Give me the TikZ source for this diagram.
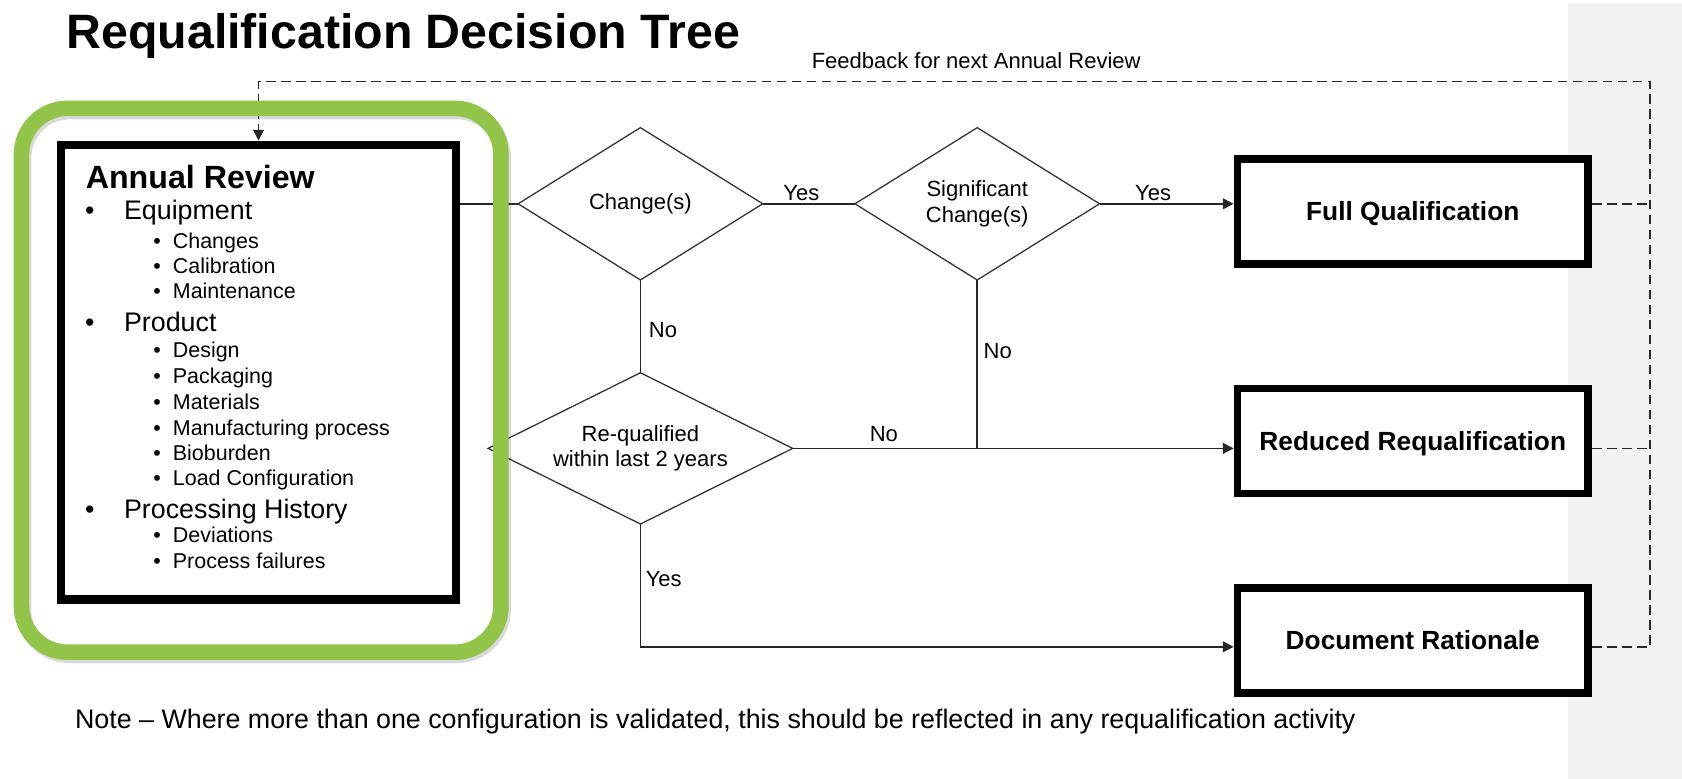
\documentclass[tikz,border=0pt]{standalone}
\usepackage{fontspec}
\setmainfont{Liberation Sans}
\usetikzlibrary{shapes.geometric,arrows.meta}
\definecolor{frame}{RGB}{146,196,74}
\definecolor{bgstrip}{RGB}{242,242,242}
\begin{document}
\begin{tikzpicture}[x=0.5pt,y=-0.5pt,
  every node/.style={inner sep=0pt, outer sep=0pt, text=black},
  titletext/.style={font=\fontsize{22.5pt}{27pt}\selectfont\bfseries, anchor=base west},
  small/.style={font=\fontsize{10.25pt}{12pt}\selectfont},
  notetext/.style={font=\fontsize{12.5pt}{15pt}\selectfont, anchor=base west},
  arhead/.style={font=\fontsize{15pt}{18pt}\selectfont\bfseries, anchor=base west},
  lone/.style={font=\fontsize{12.5pt}{15pt}\selectfont, anchor=base west},
  ltwo/.style={font=\fontsize{10pt}{12pt}\selectfont, anchor=base west},
  decision/.style={diamond, aspect=2, draw=black!80, line width=0.6pt, align=center, small},
  outcome/.style={draw=black, fill=white, line width=3.5pt, minimum width=163.5pt, minimum height=49pt, outer sep=1.75pt, text height=8.8pt, text depth=0pt, font=\fontsize{12.25pt}{15pt}\selectfont\bfseries},
  flow/.style={draw=black!85, line width=0.75pt},
  tip/.style={-{Triangle[length=5pt,width=5pt]}},
  fb/.style={draw=black!85, line width=0.8pt, dash pattern=on 4.5pt off 2.5pt},
]
\useasboundingbox (0,0) rectangle (1568,726);
\fill[bgstrip] (1462,3) rectangle (1568,726);

\node[titletext] (title) at (62,45) {Requalification Decision Tree};
\node[small] (fbtext) at (910,57) {Feedback for next Annual Review};

% Annual review box
\node[draw=black, line width=4pt, minimum width=184pt, minimum height=212pt, outer sep=2pt] (ar) at (241,347) {};
\node[arhead] (t0) at (80,175.5) {Annual Review};
\node[lone] (t1) at (79.3,205) {\makebox[18.2pt][l]{•}Equipment};
\node[ltwo] (t2) at (143,232) {\makebox[9.1pt][l]{•}Changes};
\node[ltwo] (t3) at (143,255) {\makebox[9.1pt][l]{•}Calibration};
\node[ltwo] (t4) at (143,278.5) {\makebox[9.1pt][l]{•}Maintenance};
\node[lone] (t5) at (79.3,309) {\makebox[18.2pt][l]{•}Product};
\node[ltwo] (t6) at (143,333.5) {\makebox[9.1pt][l]{•}Design};
\node[ltwo] (t7) at (143,357.5) {\makebox[9.1pt][l]{•}Packaging};
\node[ltwo] (t8) at (143,382) {\makebox[9.1pt][l]{•}Materials};
\node[ltwo] (t9) at (143,406) {\makebox[9.1pt][l]{•}Manufacturing process};
\node[ltwo] (t10) at (143,429) {\makebox[9.1pt][l]{•}Bioburden};
\node[ltwo] (t11) at (143,453) {\makebox[9.1pt][l]{•}Load Configuration};
\node[lone] (t12) at (79.3,483) {\makebox[18.2pt][l]{•}Processing History};
\node[ltwo] (t13) at (143,506) {\makebox[9.1pt][l]{•}Deviations};
\node[ltwo] (t14) at (143,530) {\makebox[9.1pt][l]{•}Process failures};

% decisions
\node[decision, minimum width=114pt, minimum height=71pt] (ch) at (597,190) {Change(s)};
\node[decision, minimum width=114pt, minimum height=71pt] (sc) at (911,190) {Significant\\Change(s)};
\node[decision, minimum width=142pt, minimum height=70.5pt] (rq) at (597,418) {Re-qualified\\within last 2 years};

% outcomes
\node[outcome] (fq) at (1317,197) {Full Qualification};
\node[outcome] (rr) at (1317,411) {Reduced Requalification};
\node[outcome] (dr) at (1317,597) {Document Rationale};

% connectors
\draw[flow] (ar.east |- ch.west) -- (ch.west);
\draw[flow] (ch.east) -- (sc.west);
\draw[flow, tip] (sc.east) -- (sc.east -| fq.west);
\draw[flow] (ch.south) -- (rq.north);
\draw[flow] (sc.south) -- (sc.south |- rq.east);
\draw[flow, tip] (rq.east) -- (rq.east -| rr.west);
\coordinate (yesturn) at (597,603);
\draw[flow, tip] (rq.south) -- (yesturn) -- (yesturn -| dr.west);

% feedback loop
\coordinate (fbcorner) at (1538,76);
\draw[fb] (fq.east |- sc.east) -- (fbcorner |- sc.east);
\draw[fb] (rr.east |- rq.east) -- (fbcorner |- rq.east);
\draw[fb, tip] (dr.east |- yesturn) -- (fbcorner |- yesturn) -- (fbcorner) -- (fbcorner -| ar.north) -- (ar.north);

% labels
\node[small] (y1) at (747,180) {Yes};
\node[small] (y2) at (1075,180) {Yes};
\node[small, anchor=west] (n1) at (605,308) {No};
\node[small, anchor=west] (n2) at (917,327) {No};
\node[small] (n3) at (824,405) {No};
\node[small, anchor=west] (y3) at (602,540) {Yes};

\node[notetext] (note) at (70,679) {Note – Where more than one configuration is validated, this should be reflected in any requalification activity};

% green highlight frame
\draw[black, opacity=0.15, line width=7.25pt, rounded corners=21.5pt] (22,104) rectangle (469,611);
\draw[frame, line width=7.25pt, rounded corners=21.5pt] (20,101) rectangle (467,608);
\end{tikzpicture}
\end{document}
